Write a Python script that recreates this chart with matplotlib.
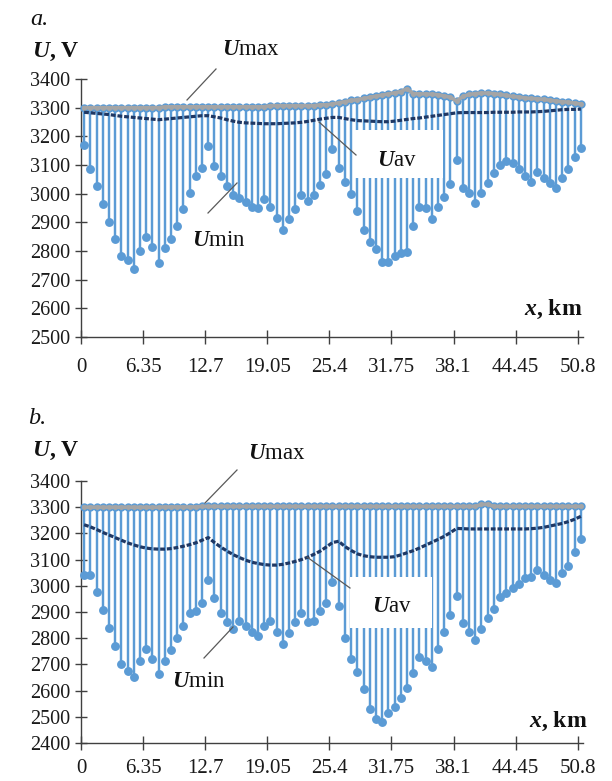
import numpy as np
import matplotlib
matplotlib.use('Agg')
import matplotlib.pyplot as plt
from matplotlib.patches import Rectangle
from matplotlib.lines import Line2D

plt.rcParams['font.family'] = ['Liberation Serif', 'DejaVu Serif']
plt.rcParams['mathtext.fontset'] = 'custom'
plt.rcParams['mathtext.rm'] = 'Liberation Serif'
plt.rcParams['mathtext.it'] = 'Liberation Serif:italic'
plt.rcParams['mathtext.bf'] = 'Liberation Serif:bold'
plt.rcParams['mathtext.bfit'] = 'Liberation Serif:bold:italic'

# ---------------- data ----------------
n_points = 81
step_km = 0.635
x_km = step_km / 2 + step_km * np.arange(n_points)

x_ticks = [0, 6.35, 12.7, 19.05, 25.4, 31.75, 38.1, 44.45, 50.8]
x_ticklabels = ['0', '6.35', '12.7', '19.05', '25.4', '31.75', '38.1', '44.45', '50.8']
y_ticks_a = [2500, 2600, 2700, 2800, 2900, 3000, 3100, 3200, 3300, 3400]
y_ticks_b = [2400, 2500, 2600, 2700, 2800, 2900, 3000, 3100, 3200, 3300, 3400]

umin_a = [3171, 3086, 3027, 2965, 2902, 2843, 2782, 2767, 2736, 2800,
          2850, 2815, 2757, 2809, 2843, 2887, 2946, 3004, 3062, 3088,
          3167, 3097, 3060, 3027, 2995, 2985, 2971, 2954, 2951, 2980,
          2953, 2915, 2873, 2910, 2946, 2996, 2975, 2997, 3030, 3068,
          3156, 3089, 3042, 2998, 2938, 2874, 2833, 2808, 2760, 2760,
          2783, 2793, 2796, 2888, 2952, 2950, 2911, 2952, 2990, 3033,
          3118, 3019, 3004, 2969, 3004, 3037, 3071, 3100, 3114, 3106,
          3085, 3060, 3042, 3075, 3056, 3037, 3019, 3054, 3085, 3129,
          3158]
umax_a = [3300, 3300, 3300, 3300, 3300, 3300, 3300, 3300, 3300, 3300,
          3300, 3300, 3300, 3303, 3303, 3303, 3303, 3303, 3303, 3303,
          3303, 3303, 3303, 3303, 3303, 3303, 3303, 3303, 3303, 3303,
          3307, 3307, 3307, 3307, 3307, 3307, 3307, 3307, 3310, 3310,
          3313, 3317, 3321, 3325, 3328, 3332, 3336, 3340, 3344, 3348,
          3352, 3356, 3366, 3349, 3348, 3348, 3347, 3345, 3341, 3336,
          3323, 3339, 3346, 3349, 3351, 3351, 3349, 3346, 3343, 3339,
          3337, 3334, 3332, 3331, 3329, 3326, 3323, 3321, 3319, 3316,
          3313]
uav_a = [3284, 3282, 3280, 3278, 3276, 3273, 3270, 3268, 3266, 3264,
         3262, 3260, 3258, 3260, 3262, 3264, 3266, 3268, 3270, 3272,
         3272, 3268, 3264, 3258, 3253, 3249, 3247, 3246, 3245, 3244,
         3244, 3244, 3245, 3246, 3247, 3249, 3252, 3256, 3260, 3263,
         3266, 3266, 3262, 3258, 3255, 3254, 3253, 3252, 3251, 3251,
         3253, 3256, 3259, 3262, 3264, 3267, 3270, 3273, 3276, 3279,
         3282, 3283, 3283, 3283, 3283, 3283, 3284, 3284, 3284, 3284,
         3285, 3285, 3285, 3286, 3287, 3289, 3291, 3293, 3294, 3294,
         3295]

umin_b = [3043, 3043, 2977, 2908, 2838, 2771, 2703, 2675, 2650, 2712,
          2757, 2720, 2662, 2713, 2754, 2799, 2847, 2896, 2902, 2934,
          3024, 2953, 2898, 2863, 2834, 2867, 2847, 2825, 2808, 2847,
          2867, 2825, 2777, 2821, 2860, 2896, 2860, 2867, 2902, 2936,
          3016, 2921, 2802, 2722, 2670, 2608, 2529, 2490, 2481, 2513,
          2539, 2571, 2609, 2668, 2729, 2713, 2689, 2759, 2825, 2890,
          2962, 2857, 2825, 2795, 2834, 2876, 2911, 2956, 2973, 2992,
          3007, 3030, 3035, 3062, 3040, 3023, 3010, 3050, 3077, 3130,
          3178]
umax_b = [3300, 3300, 3300, 3300, 3300, 3300, 3300, 3300, 3300, 3300,
          3300, 3300, 3300, 3301, 3301, 3301, 3301, 3301, 3301, 3303,
          3303, 3303, 3303, 3303, 3303, 3303, 3303, 3303, 3303, 3303,
          3303, 3303, 3303, 3303, 3303, 3303, 3303, 3303, 3303, 3303,
          3303, 3303, 3303, 3303, 3303, 3303, 3303, 3303, 3303, 3303,
          3303, 3303, 3303, 3303, 3303, 3303, 3303, 3303, 3303, 3303,
          3303, 3303, 3303, 3303, 3311, 3311, 3303, 3303, 3303, 3303,
          3303, 3303, 3303, 3303, 3303, 3303, 3303, 3303, 3303, 3303,
          3303]
uav_b = [3233, 3225, 3215, 3204, 3194, 3184, 3174, 3164, 3156, 3149,
         3144, 3141, 3140, 3140, 3142, 3146, 3151, 3157, 3164, 3174,
         3184, 3165, 3148, 3133, 3119, 3108, 3098, 3090, 3085, 3081,
         3079, 3079, 3082, 3087, 3093, 3100, 3109, 3120, 3132, 3148,
         3165, 3170, 3150, 3135, 3122, 3115, 3111, 3109, 3109, 3109,
         3111, 3118, 3126, 3134, 3144, 3155, 3166, 3177, 3189, 3203,
         3219, 3218, 3217, 3217, 3217, 3217, 3217, 3217, 3217, 3217,
         3217, 3217, 3218, 3220, 3223, 3228, 3233, 3238, 3245, 3254,
         3265]

# ---------------- style ----------------
BLUE = '#5B9BD5'
GREY = '#A5A5A5'
NAVY = '#1F3864'
AXC = '#404040'
LEAD = '#595959'

W, H = 612, 781
fig = plt.figure(figsize=(W / 100, H / 100), dpi=100)


def fx(px):
    return px / W


def fy(py):
    return 1 - py / H


def make_panel(top, bottom, ylim, yticks, umin, umax, uav, xpad):
    left, right = 81, 583
    ax = fig.add_axes([fx(left), fy(bottom), (right - left) / W, (bottom - top) / H])
    ax.set_xlim(0, 51.34)
    ax.set_ylim(*ylim)
    ax.vlines(x_km, umin, umax, color=BLUE, lw=1.75, zorder=2)
    ax.plot(x_km, umin, 'o', ms=6.4, color=BLUE, mec='none', zorder=3, clip_on=False)
    ax.plot(x_km, umax, 'o', ms=6.0, color=BLUE, mec='none', zorder=3, clip_on=False)
    ax.plot(x_km, umax, '-o', color=GREY, lw=2.6, ms=3.6, mec='none', zorder=4, clip_on=False)
    ax.plot(x_km, uav, color=NAVY, lw=2.3, ls=(0, (1.5, 0.6)), zorder=5, clip_on=False)
    for s in ['top', 'right']:
        ax.spines[s].set_visible(False)
    for s in ['left', 'bottom']:
        ax.spines[s].set_color(AXC)
        ax.spines[s].set_linewidth(1.0)
    ax.set_xticks(x_ticks)
    ax.set_xticklabels(x_ticklabels)
    ax.set_yticks(yticks)
    ax.tick_params(axis='x', direction='inout', length=9.5, width=1.0, color=AXC,
                   labelsize=15, pad=xpad, labelcolor='#1a1a1a')
    ax.tick_params(axis='y', direction='inout', length=8, width=1.0, color=AXC,
                   labelsize=14.5, pad=4, labelcolor='#1a1a1a')
    return ax


ax_a = make_panel(79, 337, (2500, 3400), y_ticks_a, umin_a, umax_a, uav_a, 10.5)
ax_b = make_panel(481, 743, (2400, 3400), y_ticks_b, umin_b, umax_b, uav_b, 6.5)


def white_box(x0, y0, x1, y1):
    fig.add_artist(Rectangle((fx(x0), fy(y1)), (x1 - x0) / W, (y1 - y0) / H,
                             transform=fig.transFigure, facecolor='white',
                             edgecolor='none', zorder=2.5))


def leader(x0, y0, x1, y1):
    fig.add_artist(Line2D([fx(x0), fx(x1)], [fy(y0), fy(y1)], transform=fig.transFigure,
                          color=LEAD, lw=0.9, zorder=3))


def label(xp, yp, s, size=16.5, ha='left', weight='normal', style='normal'):
    fig.text(fx(xp), fy(yp), s, fontsize=size, ha=ha, va='baseline',
             fontweight=weight, fontstyle=style, color='#111111', zorder=4)


# panel a annotations
label(30, 25, 'a.', size=17.5, style='italic')
label(32, 57, r'$\mathbfit{U}$, V', size=17, weight='bold')
label(222, 55, r'$\mathbfit{U}$max', size=16.5)
leader(216, 69, 187, 100)
white_box(355, 130, 443, 178)
label(377, 166, r'$\mathbfit{U}$av', size=16.5)
leader(319, 122, 356, 155)
label(192, 246, r'$\mathbfit{U}$min', size=16.5)
leader(208, 213, 237, 183)
label(583, 315, r'$\mathbfit{x}$, km', size=17, ha='right', weight='bold')

# panel b annotations
label(28, 424, 'b.', size=17.5, style='italic')
label(32, 456, r'$\mathbfit{U}$, V', size=17, weight='bold')
label(248, 459, r'$\mathbfit{U}$max', size=16.5)
leader(237, 470, 205, 503)
white_box(350, 577, 432, 628)
label(372, 612, r'$\mathbfit{U}$av', size=16.5)
leader(307, 557, 350, 588)
label(172, 687, r'$\mathbfit{U}$min', size=16.5)
leader(204, 658, 233, 627)
label(588, 727, r'$\mathbfit{x}$, km', size=17, ha='right', weight='bold')

fig.savefig('out.png', dpi=100)
